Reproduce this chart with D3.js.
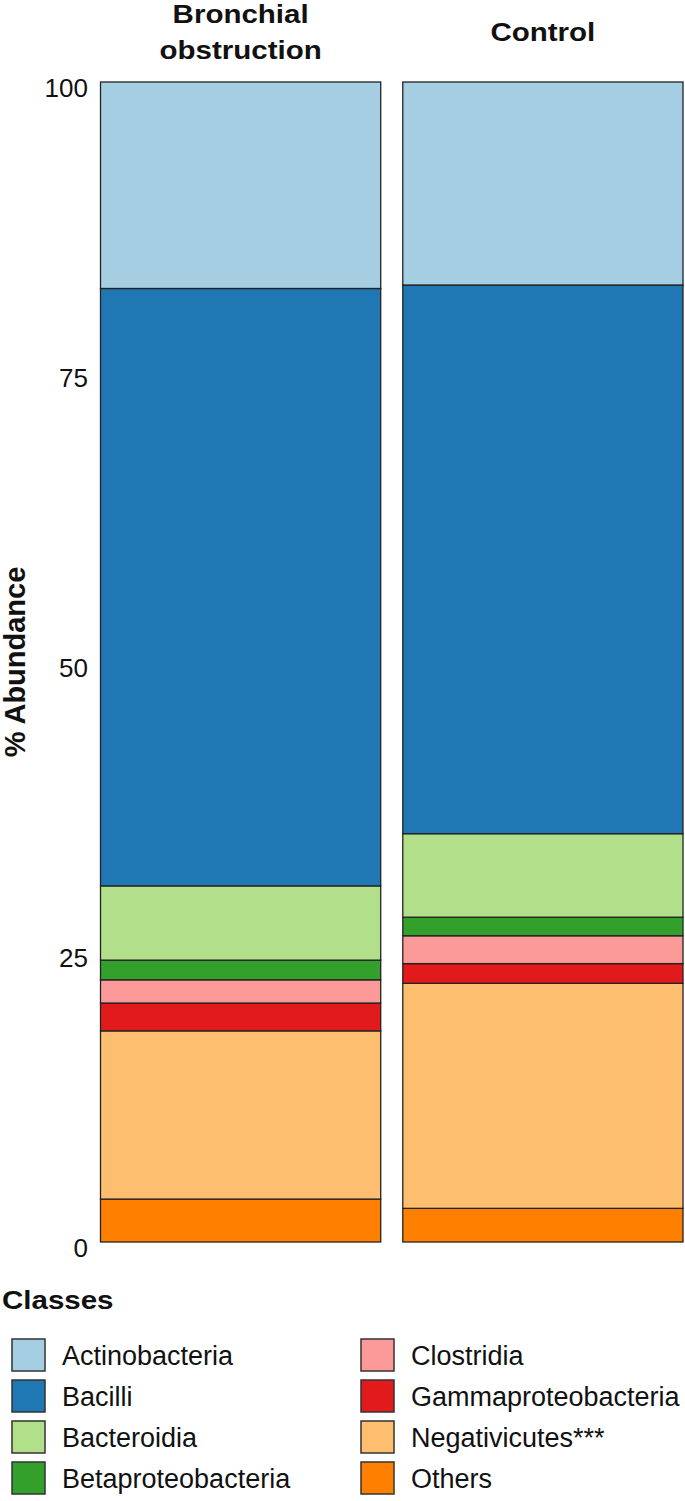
<!DOCTYPE html>
<html>
<head>
<meta charset="utf-8">
<script src="https://cdn.jsdelivr.net/npm/d3@7"></script>
<style>
  body { margin: 0; background: #fff; }
  svg { display: block; font-family: "Liberation Sans", Arial, sans-serif; }
</style>
</head>
<body>
<svg id="chart" width="685" height="1501"></svg>
<script>
// data (% abundance per class)
var groups = ["Bronchial obstruction", "Control"];
var classes = ["Actinobacteria", "Bacilli", "Bacteroidia", "Betaproteobacteria",
               "Clostridia", "Gammaproteobacteria", "Negativicutes***", "Others"];
var bronchial = [17.8, 51.5, 6.4, 1.7, 2.0, 2.4, 14.5, 3.7];
var control   = [17.5, 47.3, 7.2, 1.6, 2.4, 1.7, 19.4, 2.9];
var yTicks = [0, 25, 50, 75, 100];
var colors = ["#a6cee3", "#1f78b4", "#b2df8a", "#33a02c",
              "#fb9a99", "#e31a1c", "#fdbf6f", "#ff7f00"];

var svg = d3.select("#chart");

var rows = [bronchial, control].map(function(vals, i) {
  var r = { group: groups[i] };
  classes.forEach(function(c, j) { r[c] = vals[j]; });
  return r;
});

var color = d3.scaleOrdinal().domain(classes).range(colors);

var x = d3.scaleBand().domain(groups).range([100.5, 683]).paddingInner(0.073).paddingOuter(0);
var y = d3.scaleLinear().domain([0, 100]).range([1242, 82]);

// Others at the bottom, Actinobacteria on top
var stack = d3.stack().keys(classes.slice().reverse());
var series = stack(rows);

svg.append("g")
  .selectAll("g")
  .data(series)
  .join("g")
    .attr("fill", function(d) { return color(d.key); })
  .selectAll("rect")
  .data(function(d) { return d; })
  .join("rect")
    .attr("x", function(d) { return x(d.data.group); })
    .attr("y", function(d) { return y(d[1]); })
    .attr("width", x.bandwidth())
    .attr("height", function(d) { return y(d[0]) - y(d[1]); })
    .attr("stroke", "#222")
    .attr("stroke-width", 1.3);

// y axis, labels only
var yAxis = svg.append("g")
  .attr("transform", "translate(100,0)")
  .call(d3.axisLeft(y).tickValues(yTicks).tickSize(0).tickPadding(12));
yAxis.select(".domain").remove();
yAxis.selectAll("text")
  .attr("font-size", 26)
  .attr("font-family", "'Liberation Sans', Arial, sans-serif")
  .attr("fill", "#111")
  .attr("dy", "0.55em");

// bold labels in the figure are a bit wide for their height
function boldText(g, px, py, txt, anchor) {
  return g.append("text")
    .attr("transform", "translate(" + px + "," + py + ") scale(1.18,1)")
    .attr("text-anchor", anchor)
    .attr("font-size", 25)
    .attr("font-weight", "bold")
    .attr("fill", "#111")
    .text(txt);
}

svg.append("text")
  .attr("transform", "translate(25," + y(50) + ") rotate(-90)")
  .attr("text-anchor", "middle")
  .attr("font-size", 29)
  .attr("font-weight", "bold")
  .attr("fill", "#111")
  .text("% Abundance");

// facet titles
groups.forEach(function(d) {
  var cx = x(d) + x.bandwidth() / 2;
  if (d == "Bronchial obstruction") {
    boldText(svg, cx, 23, "Bronchial", "middle");
    boldText(svg, cx, 59, "obstruction", "middle");
  } else {
    boldText(svg, cx, 41, d, "middle");
  }
});

// legend
boldText(svg, 2, 1309, "Classes", "start");

var legend = svg.append("g")
  .selectAll("g")
  .data(classes)
  .join("g")
    .attr("transform", function(d, i) {
      var col = Math.floor(i / 4), row = i % 4;
      return "translate(" + (col == 0 ? 12 : 361) + "," + (1339 + row * 41) + ")";
    });

legend.append("rect")
  .attr("width", 33)
  .attr("height", 32)
  .attr("fill", function(d) { return color(d); })
  .attr("stroke", "#333")
  .attr("stroke-width", 1.5);

legend.append("text")
  .attr("x", 50)
  .attr("y", 26)
  .attr("font-size", 27)
  .attr("fill", "#111")
  .text(function(d) { return d; });
</script>
</body>
</html>
